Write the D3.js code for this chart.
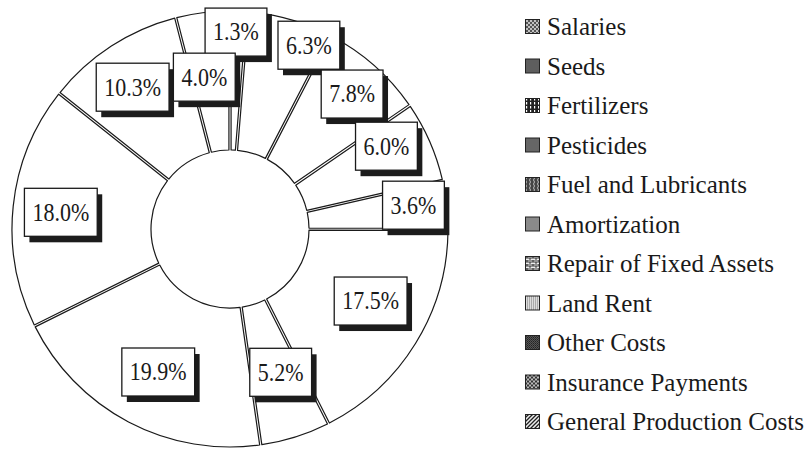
<!DOCTYPE html>
<html><head><meta charset="utf-8">
<script src="https://cdn.jsdelivr.net/npm/d3@7"></script>
<style>body{margin:0;background:#fff}svg{display:block}</style>
</head><body><svg id="c" width="809" height="450"></svg>
<script>
// ---- data ----
const categories = ["Salaries","Seeds","Fertilizers","Pesticides","Fuel and Lubricants","Amortization","Repair of Fixed Assets","Land Rent","Other Costs","Insurance Payments","General Production Costs"];
const shares = [1.3, 6.3, 7.8, 6.0, 3.6, 17.5, 5.2, 19.9, 18.0, 10.3, 4.0];
const labelTexts = shares.map(v => v.toFixed(1) + "%");

// ---- layout (label placement nudges, not data) ----
const labelRadius = [197, 200, 182, 177, 185, 158, 152, 160, 170, 172, 154];
const labelAngleShift = [-0.6, 7.2, 0.7, -4.2, -1, -4.5, -2, -1.1, -0.4, -1.5, -2.4];

const svg = d3.select("#c");
const cx = 230, cy = 229, rOut = 218, rIn = 79;
const FONT = '"Liberation Serif"';

// patterns for legend swatches
const defs = svg.append("defs");
function pat(id, w, h, bg, draw) {
  const p = defs.append("pattern").attr("id", id).attr("width", w).attr("height", h).attr("patternUnits", "userSpaceOnUse");
  p.append("rect").attr("width", w).attr("height", h).attr("fill", bg);
  draw(p);
}
pat("p0", 4, 4, "#555", p => { p.append("path").attr("d","M0,0L4,4M4,0L0,4").attr("stroke","#ddd").attr("stroke-width",0.8); });
pat("p1", 2, 2, "#777", p => { p.append("rect").attr("width",2).attr("height",1).attr("fill","#444"); });
pat("p2", 4, 4, "#222", p => { p.append("rect").attr("x",1).attr("y",0).attr("width",1.2).attr("height",2.5).attr("fill","#fff"); });
pat("p3", 2, 2, "#888", p => { p.append("rect").attr("width",1).attr("height",1).attr("fill","#444"); p.append("rect").attr("x",1).attr("y",1).attr("width",1).attr("height",1).attr("fill","#444"); });
pat("p4", 4, 4, "#444", p => { p.append("path").attr("d","M1,0Q2,1 1,2Q0,3 1,4").attr("stroke","#ddd").attr("fill","none").attr("stroke-width",0.8); });
pat("p5", 4, 4, "#8a8a8a", p => {});
pat("p6", 6, 4, "#eee", p => { p.append("path").attr("d","M0,0H6M0,2H6M2,0V2M5,2V4").attr("stroke","#222").attr("stroke-width",0.9); });
pat("p7", 2, 2, "#ddd", p => { p.append("rect").attr("width",1).attr("height",1).attr("fill","#777"); });
pat("p8", 2, 2, "#555", p => { p.append("rect").attr("width",1).attr("height",1).attr("fill","#222"); p.append("rect").attr("x",1).attr("y",1).attr("width",1).attr("height",1).attr("fill","#333"); });
pat("p9", 4, 4, "#bbb", p => { p.append("rect").attr("width",2).attr("height",2).attr("fill","#333"); p.append("rect").attr("x",2).attr("y",2).attr("width",2).attr("height",2).attr("fill","#333"); });
pat("p10", 4, 4, "#eee", p => { p.append("path").attr("d","M-1,5L5,-1M-1,1L1,-1M3,5L5,3").attr("stroke","#222").attr("stroke-width",1.3); });

// ---- doughnut ----
const pie = d3.pie().sort(null).value(d => d).startAngle(0).endAngle(2 * Math.PI);
const arcs = pie(shares);
const arc = d3.arc().innerRadius(rIn).outerRadius(rOut).padAngle(0.012).padRadius(180);

const g = svg.append("g").attr("transform", `translate(${cx},${cy})`);
g.selectAll("path.slice").data(arcs).join("path")
  .attr("class", "slice")
  .attr("d", arc)
  .attr("fill", "#fff")
  .attr("stroke", "#1a1a1a")
  .attr("stroke-width", 1.2)
  .attr("stroke-linejoin", "round");

// ---- labels ----
const lab = g.selectAll("g.lab").data(arcs).join("g").attr("class", "lab")
  .attr("transform", (d, i) => {
    const a = (d.startAngle + d.endAngle) / 2 + labelAngleShift[i] * Math.PI / 180;
    const r = labelRadius[i];
    return `translate(${r * Math.sin(a)},${-r * Math.cos(a)})`;
  });
lab.each(function (d, i) {
  const s = d3.select(this);
  const shadow = s.append("rect").attr("fill", "#1c1c1c");
  const box = s.append("rect").attr("fill", "#fff").attr("stroke", "#1a1a1a").attr("stroke-width", 1.3);
  const t = s.append("text").text(labelTexts[i])
    .attr("text-anchor", "middle")
    .style("font-family", FONT).style("font-size", "22px").attr("fill", "#1a1a1a")
    .attr("transform", "scale(1,1.12)")
    .attr("y", 7.5);
  const w = t.node().getComputedTextLength() + 16, h = 48;
  box.attr("x", -w / 2).attr("y", -h / 2).attr("width", w).attr("height", h);
  shadow.attr("x", -w / 2 + 5).attr("y", -h / 2 + 6).attr("width", w).attr("height", h);
});

// ---- legend ----
const leg = svg.append("g").selectAll("g").data(categories).join("g")
  .attr("transform", (d, i) => `translate(525,${35 + 39.5 * i})`);
leg.append("rect").attr("x", 0.5).attr("y", -15.5).attr("width", 14).attr("height", 14)
  .attr("fill", (d, i) => `url(#p${i})`).attr("stroke", "#222").attr("stroke-width", 1);
leg.append("text").attr("x", 22).attr("y", 0)
  .style("font-family", FONT).style("font-size", "25px").attr("fill", "#1a1a1a")
  .text(d => d);
</script>
</body></html>
